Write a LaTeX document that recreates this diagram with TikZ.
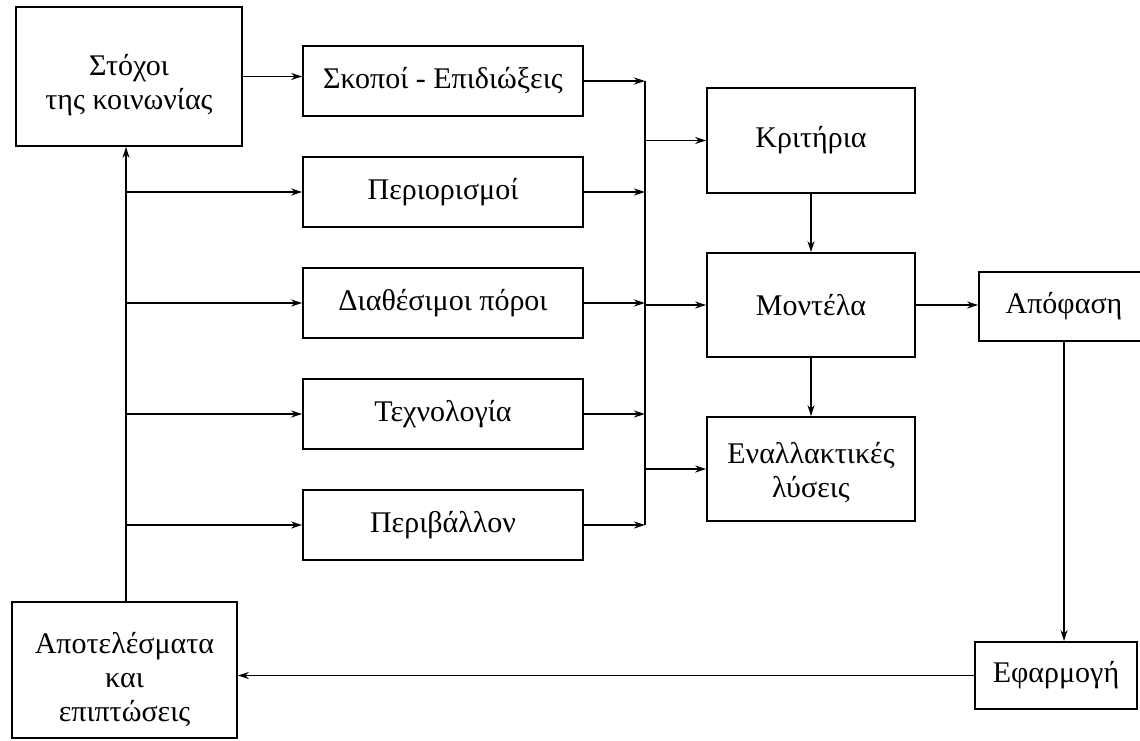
\documentclass[tikz,border=0pt]{standalone}
\usepackage{fontspec}
\setmainfont{Liberation Serif}
\usetikzlibrary{arrows.meta,calc}
\newcommand{\lift}[1]{\rule{0pt}{#1}}
\begin{document}
\begin{tikzpicture}[x=1pt,y=-1pt,
  box/.style={draw, line width=1.8pt, align=center, inner sep=0pt,
    font=\fontsize{30}{34}\selectfont},
  conn/.style={line width=1.8pt},
  arr/.style={conn, -{Stealth[length=11pt,width=7pt]}}]
\useasboundingbox (0,0) rectangle (1140,741);
% left column
\node[box, minimum width=226pt, minimum height=139pt] (st) at (129,76.5) {\lift{38pt}Στόχοι\\της κοινωνίας};
\node[box, minimum width=225pt, minimum height=136pt] (ao) at (124.5,670) {\lift{40pt}Αποτελέσματα\\και\\επιπτώσεις};
% middle column
\node[box, minimum width=280pt, minimum height=70pt] (sk) at (443,81) {Σκοποί - Επιδιώξεις};
\node[box, minimum width=280pt, minimum height=70pt] (pe) at (443,192) {Περιορισμοί};
\node[box, minimum width=280pt, minimum height=70pt] (di) at (443,303) {Διαθέσιμοι πόροι};
\node[box, minimum width=280pt, minimum height=70pt] (te) at (443,414) {Τεχνολογία};
\node[box, minimum width=280pt, minimum height=70pt] (pb) at (443,525) {Περιβάλλον};
% right-middle column
\node[box, minimum width=208pt, minimum height=105pt] (kr) at (811,140.5) {Κριτήρια};
\node[box, minimum width=208pt, minimum height=104pt] (mo) at (811,305) {Μοντέλα};
\node[box, minimum width=208pt, minimum height=104pt] (ev) at (811,469) {\lift{28pt}Εναλλακτικές\\λύσεις};
% right column
\node[box, minimum width=170pt, minimum height=69pt] (ap) at (1064,306.5) {Απόφαση};
\node[box, minimum width=162pt, minimum height=67pt] (ef) at (1056,675.5) {Εφαρμογή};
% bus coordinates
\coordinate (bus) at (645,0);
% left feedback line
\draw[arr] (ao.north -| 126,0) -- (st.south -| 126,0);
\draw[arr] (st.east) -- (st.east -| sk.west);
\foreach \n in {pe,di,te,pb}{
  \draw[arr] (\n.west -| 126,0) -- (\n.west);
}
% bus on the right of middle boxes
\draw[conn] (sk.east -| bus) -- (pb.east -| bus);
\foreach \n in {sk,pe,di,te,pb}{
  \draw[arr] (\n.east) -- (\n.east -| bus);
}
\draw[arr] (kr.west -| bus) -- (kr.west);
\draw[arr] (mo.west -| bus) -- (mo.west);
\draw[arr] (ev.west -| bus) -- (ev.west);
% criteria -> models -> alternatives
\draw[arr] (kr.south) -- (mo.north);
\draw[arr] (mo.south) -- (ev.north);
% models -> decision -> implementation -> results
\draw[arr] (mo.east) -- (mo.east -| ap.west);
\draw[arr] (ap.south) -- (ap.south |- ef.north);
\draw[arr] (ef.west) -- (ef.west -| ao.east);
\end{tikzpicture}
\end{document}
